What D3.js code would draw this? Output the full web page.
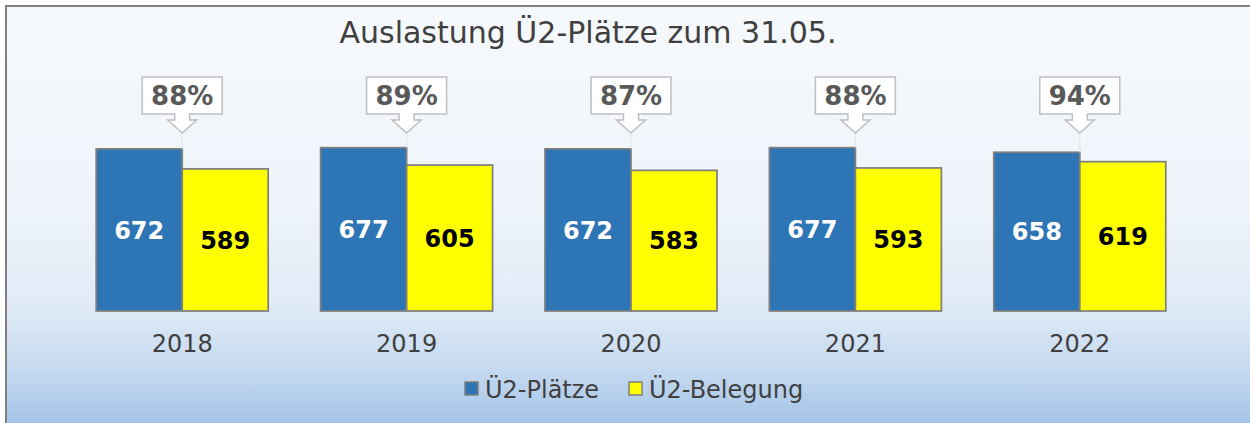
<!DOCTYPE html>
<html>
<head>
<meta charset="utf-8">
<script src="https://cdn.jsdelivr.net/npm/d3@7"></script>
<style>
  html, body { margin: 0; padding: 0; background: #ffffff; }
  svg { display: block; }
  text { font-family: "DejaVu Sans", Verdana, sans-serif; }
</style>
</head>
<body>
<svg id="chart" width="1250" height="423"></svg>
<script>
// Chart data
const years = ["2018", "2019", "2020", "2021", "2022"];
const plaetze = [672, 677, 672, 677, 658];
const belegung = [589, 605, 583, 593, 619];
const seriesNames = ["Ü2-Plätze", "Ü2-Belegung"];
const seriesColors = ["#2e75b6", "#ffff00"];
const labelColors = ["#ffffff", "#000000"];
const titleText = "Auslastung Ü2-Plätze zum 31.05.";

const W = 1250, H = 423;
const svg = d3.select("#chart");

// Background gradient
const defs = svg.append("defs");
const grad = defs.append("linearGradient")
  .attr("id", "bg").attr("x1", 0).attr("y1", 0).attr("x2", 0).attr("y2", 1);
[["0%", "#f6f9fc"], ["45%", "#f0f5fb"], ["70%", "#e1ebf7"], ["85%", "#c7dbf0"], ["100%", "#a1c2e7"]]
  .forEach(([o, c]) => grad.append("stop").attr("offset", o).attr("stop-color", c));

svg.append("rect").attr("x", 6).attr("y", 6).attr("width", W).attr("height", H)
  .attr("fill", "url(#bg)").attr("stroke", "#7f7f7f").attr("stroke-width", 2);

// Title
svg.append("text")
  .attr("x", 588).attr("y", 43)
  .attr("text-anchor", "middle")
  .attr("font-size", 30)
  .attr("fill", "#404040")
  .text(titleText);

// Scales
const x0 = d3.scaleBand().domain(years).range([70, 1192]).paddingInner(0.2335).paddingOuter(0.11675);
const x1 = d3.scaleBand().domain(seriesNames).range([0, x0.bandwidth()]);
const y = d3.scaleLinear().domain([0, 800]).range([311, 118]);

const rows = years.map((yr, i) => ({ year: yr, values: [plaetze[i], belegung[i]] }));

// Bars
const groups = svg.append("g").selectAll("g")
  .data(rows).join("g")
  .attr("transform", d => `translate(${x0(d.year)},0)`);

groups.selectAll("rect")
  .data(d => d.values.map((v, k) => ({ v, k })))
  .join("rect")
  .attr("x", d => x1(seriesNames[d.k]))
  .attr("y", d => y(d.v))
  .attr("width", x1.bandwidth())
  .attr("height", d => y(0) - y(d.v))
  .attr("fill", d => seriesColors[d.k])
  .attr("stroke", "#7f7f7f")
  .attr("stroke-width", 1.75);

groups.selectAll("text.val")
  .data(d => d.values.map((v, k) => ({ v, k })))
  .join("text")
  .attr("class", "val")
  .attr("x", d => x1(seriesNames[d.k]) + x1.bandwidth() / 2)
  .attr("y", d => (y(d.v) + y(0)) / 2)
  .attr("dy", "0.36em")
  .attr("text-anchor", "middle")
  .attr("font-size", 24)
  .attr("font-weight", "bold")
  .attr("fill", d => labelColors[d.k])
  .text(d => d.v);

// Utilisation callouts
const boxW = 80, boxTop = 77, boxBot = 114, shaftHalf = 7.5, headHalf = 14.5, headY = 120, tipY = 133;
const callouts = svg.append("g").selectAll("g")
  .data(rows).join("g")
  .attr("transform", d => `translate(${x0(d.year) + x0.bandwidth() / 2},0)`);

callouts.append("line")
  .attr("x1", 0).attr("x2", 0)
  .attr("y1", tipY).attr("y2", d => y(d3.max(d.values)))
  .attr("stroke", "#e3e3e3").attr("stroke-width", 1);

callouts.append("path")
  .attr("d", () => {
    const h = boxW / 2;
    return `M${-h},${boxTop}H${h}V${boxBot}H${shaftHalf}V${headY}H${headHalf}L0,${tipY}L${-headHalf},${headY}H${-shaftHalf}V${boxBot}H${-h}Z`;
  })
  .attr("fill", "#ffffff")
  .attr("stroke", "#bfbfbf")
  .attr("stroke-width", 1.5);

callouts.append("text")
  .attr("x", 0).attr("y", (boxTop + boxBot) / 2)
  .attr("dy", "0.36em")
  .attr("text-anchor", "middle")
  .attr("font-size", 26)
  .attr("font-weight", "bold")
  .attr("fill", "#595959")
  .text(d => Math.round(d.values[1] / d.values[0] * 100) + "%");

// Category axis labels
const xAxis = d3.axisBottom(x0).tickSize(0).tickPadding(0);
const axisG = svg.append("g").attr("transform", "translate(0,334)").call(xAxis);
axisG.select(".domain").remove();
axisG.selectAll("text")
  .attr("font-family", "DejaVu Sans, Verdana, sans-serif")
  .attr("font-size", 24)
  .attr("fill", "#404040")
  .attr("dy", "0.74em");

// Legend
const legendX = [465, 629];
const legend = svg.append("g").selectAll("g")
  .data(seriesNames).join("g")
  .attr("transform", (d, i) => `translate(${legendX[i]},382)`);
legend.append("rect")
  .attr("width", 13).attr("height", 13)
  .attr("fill", (d, i) => seriesColors[i])
  .attr("stroke", "#7f7f7f").attr("stroke-width", 1.5);
legend.append("text")
  .attr("x", 20).attr("y", 7)
  .attr("dy", "0.36em")
  .attr("font-size", 24)
  .attr("fill", "#404040")
  .text(d => d);
</script>
</body>
</html>
